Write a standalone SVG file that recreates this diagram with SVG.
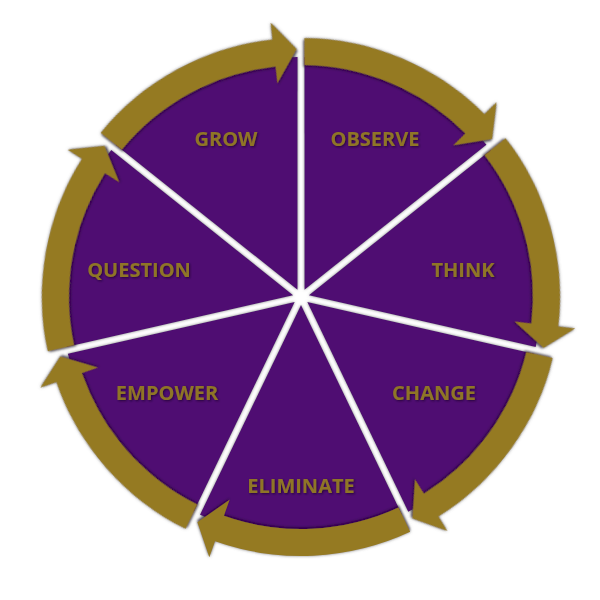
<svg xmlns="http://www.w3.org/2000/svg" xmlns:xlink="http://www.w3.org/1999/xlink" width="600" height="600" viewBox="0 0 600 600">
<defs>
<style>
.wedge{fill:#500A72}
.band{fill:#957A22;filter:url(#inner)}
.lbl{font-family:"Open Sans","Liberation Sans",sans-serif;font-weight:bold;font-size:20px;fill:#8F7526;text-anchor:middle;filter:url(#ts)}
</style>
<filter id="glow" x="-10%" y="-10%" width="120%" height="120%">
 <feGaussianBlur in="SourceAlpha" stdDeviation="1.6" result="b"/>
 <feFlood flood-color="#6a6a6a" flood-opacity="0.85"/>
 <feComposite in2="b" operator="in"/>
 <feMerge><feMergeNode/><feMergeNode in="SourceGraphic"/></feMerge>
</filter>
<filter id="inner" x="-10%" y="-10%" width="120%" height="130%">
 <feGaussianBlur in="SourceAlpha" stdDeviation="1.2"/>
 <feOffset dx="0" dy="2" result="b"/>
 <feFlood flood-color="#25033a" flood-opacity="0.7"/>
 <feComposite in2="b" operator="in"/>
 <feMerge><feMergeNode/><feMergeNode in="SourceGraphic"/></feMerge>
</filter>
<filter id="ts" x="-10%" y="-20%" width="120%" height="150%">
 <feGaussianBlur in="SourceAlpha" stdDeviation="0.8"/>
 <feOffset dx="1" dy="1.2" result="b"/>
 <feFlood flood-color="#1a0028" flood-opacity="0.75"/>
 <feComposite in2="b" operator="in"/>
 <feMerge><feMergeNode/><feMergeNode in="SourceGraphic"/></feMerge>
</filter>
<g id="sector">
 <path class="wedge" d="M0,-8.07 L-101.0,-217.7 A240,240 0 0 1 101.0,-217.7 Z"/>
 <path class="band" d="M-109.2,-234.8 A259,259 0 0 1 86.0,-244.3 L91.7,-260.3 L103.6,-225.3 L71.4,-202.8 L77.1,-218.8 A232,232 0 0 0 -97.5,-210.5 Z"/>
</g>
</defs>
<rect width="600" height="600" fill="#ffffff"/>
<g id="observe">
 <g filter="url(#glow)"><use xlink:href="#sector" href="#sector" transform="translate(301,297) rotate(25.714)"/></g>
 <text class="lbl" x="375" y="146">OBSERVE</text>
</g>
<g id="think">
 <g filter="url(#glow)"><use xlink:href="#sector" href="#sector" transform="translate(301,297) rotate(77.143)"/></g>
 <text class="lbl" x="463" y="277">THINK</text>
</g>
<g id="change">
 <g filter="url(#glow)"><use xlink:href="#sector" href="#sector" transform="translate(301,297) rotate(128.571)"/></g>
 <text class="lbl" x="434" y="400">CHANGE</text>
</g>
<g id="eliminate">
 <g filter="url(#glow)"><use xlink:href="#sector" href="#sector" transform="translate(301,297) rotate(180)"/></g>
 <text class="lbl" x="301" y="493">ELIMINATE</text>
</g>
<g id="empower">
 <g filter="url(#glow)"><use xlink:href="#sector" href="#sector" transform="translate(301,297) rotate(231.429)"/></g>
 <text class="lbl" x="167" y="400">EMPOWER</text>
</g>
<g id="question">
 <g filter="url(#glow)"><use xlink:href="#sector" href="#sector" transform="translate(301,297) rotate(282.857)"/></g>
 <text class="lbl" x="139" y="277">QUESTION</text>
</g>
<g id="grow">
 <g filter="url(#glow)"><use xlink:href="#sector" href="#sector" transform="translate(301,297) rotate(334.286)"/></g>
 <text class="lbl" x="226" y="146">GROW</text>
</g>
<g id="connectors"></g>
</svg>
